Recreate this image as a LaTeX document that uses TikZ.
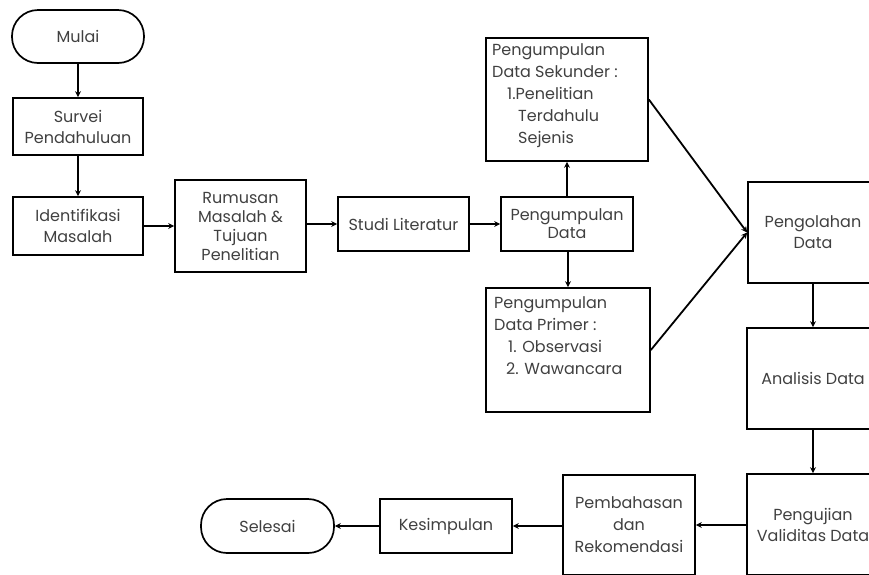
\documentclass[tikz,border=0pt]{standalone}
\usepackage{fontspec}
\setmainfont{Poppins}
\usetikzlibrary{arrows.meta,positioning}
\begin{document}
\begin{tikzpicture}[x=1pt,y=-1pt,
  txt/.style={text=black!75, font=\fontsize{16}{21}\selectfont},
  box/.style={draw=black, line width=1.7pt, rectangle, inner sep=0pt, align=center, txt},
  term/.style={box, rounded corners=26pt},
  arr/.style={draw=black, line width=1.8pt, -{Stealth[length=6pt,width=6pt]}}
]
\useasboundingbox (0,0) rectangle (869,574);
\clip (0,0) rectangle (869,574);
\node[term, minimum width=132pt, minimum height=53pt] (mulai) at (78,36.5) {Mulai};
\node[box, minimum width=130pt, minimum height=57pt] (survei) at (78,126.5) {Survei\\Pendahuluan};
\node[box, minimum width=130pt, minimum height=58pt] (ident) at (78,226) {Identifikasi\\Masalah};
\node[box, minimum width=131pt, minimum height=92pt, font=\fontsize{16}{19}\selectfont] (rumusan) at (240.5,226) {Rumusan\\Masalah \&\\Tujuan\\Penelitian};
\node[box, minimum width=131pt, minimum height=54pt] (studi) at (403.5,224) {Studi Literatur};
\node[box, minimum width=132pt, minimum height=54pt, font=\fontsize{16}{18}\selectfont] (pdata) at (567,224) {Pengumpulan\\Data};
\node[box, minimum width=162pt, minimum height=123pt] (sekunder) at (567,99.5) {};
\node[txt, anchor=north west, align=left, inner sep=0pt, font=\fontsize{16}{22}\selectfont] (sekt) at (492,43) {Pengumpulan\\Data Sekunder :\\\hspace*{15pt}1.Penelitian\\\hspace*{26pt}Terdahulu\\\hspace*{26pt}Sejenis};
\node[box, minimum width=164pt, minimum height=124pt] (primer) at (568,350) {};
\node[txt, anchor=north west, align=left, inner sep=0pt, font=\fontsize{16}{22}\selectfont] (prit) at (494,296) {Pengumpulan\\Data Primer :\\\hspace*{14pt}1. Observasi\\\hspace*{12pt}2. Wawancara};
\node[box, minimum width=130pt, minimum height=101pt] (olah) at (813,232.5) {Pengolahan\\Data};
\node[box, minimum width=132pt, minimum height=101pt] (analisis) at (813,378.5) {Analisis Data};
\node[box, minimum width=132pt, minimum height=101pt] (uji) at (813,524.5) {Pengujian\\Validitas Data};
\node[box, minimum width=132pt, minimum height=100pt, font=\fontsize{16}{22}\selectfont] (bahas) at (629,525) {Pembahasan\\dan\\Rekomendasi};
\node[box, minimum width=132pt, minimum height=54pt] (kesimp) at (446,526) {Kesimpulan};
\node[term, minimum width=133pt, minimum height=54pt] (selesai) at (267.5,526) {Selesai};

\draw[arr] (mulai) -- (survei);
\draw[arr] (survei) -- (ident);
\draw[arr] (ident.east) -- (rumusan.west |- ident.east);
\draw[arr] (rumusan.east |- studi.east) -- (studi.west);
\draw[arr] (studi) -- (pdata);
\draw[arr] (pdata) -- (sekunder);
\draw[arr] (pdata.south -| primer.north) -- (primer.north);
\draw[arr] (sekunder.east) -- (olah.west);
\draw[arr] (primer.east) -- (olah.west);
\draw[arr] (olah) -- (analisis);
\draw[arr] (analisis) -- (uji);
\draw[arr] (uji.west |- bahas.east) -- (bahas.east);
\draw[arr] (bahas.west |- kesimp.east) -- (kesimp.east);
\draw[arr] (kesimp) -- (selesai);
\end{tikzpicture}
\end{document}
